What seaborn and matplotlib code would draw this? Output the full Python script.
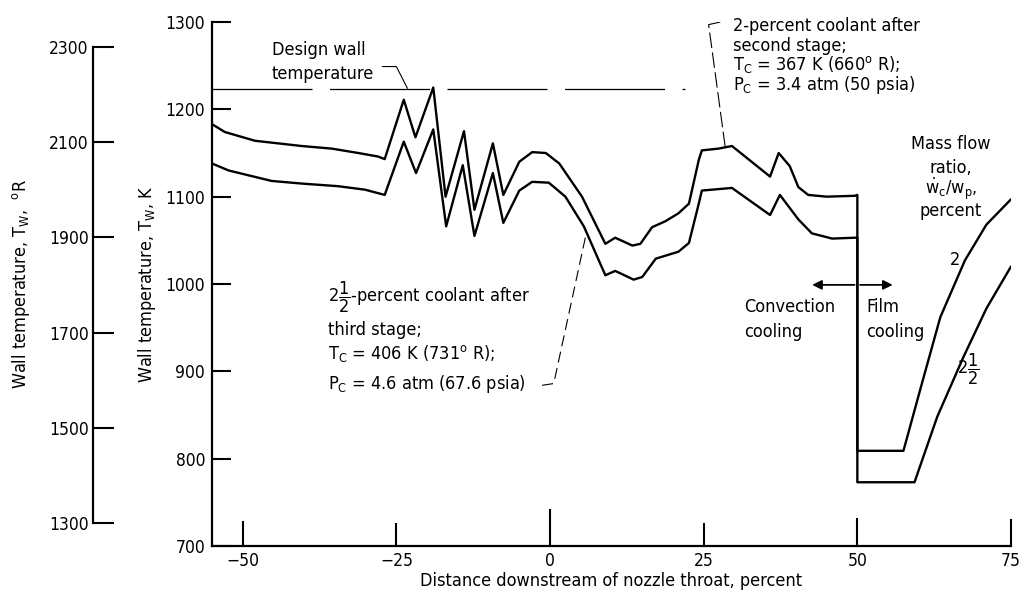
import matplotlib
matplotlib.use('Agg')
from matplotlib import pyplot as plt
import seaborn as sns
import pandas as pd

# curve for 2 percent coolant (upper)
dist_2 = [-55, -52.9, -48, -40.4, -35.5, -31.2, -28, -26.9, -23.8, -21.9, -19.0, -17.0,
          -14.0, -12.3, -9.3, -7.6, -5.0, -2.9, -0.7, 1.5, 5.2, 9.0, 10.6, 13.4, 14.7,
          16.6, 18.8, 20.9, 22.6, 24.2, 24.7, 27.4, 29.6, 35.8, 37.2, 39.0, 40.4, 42.0,
          45.0, 49.6, 50, 50, 57.5, 60.5, 63.5, 67.5, 71.0, 75.0]
temp_2 = [1183, 1174, 1164, 1158, 1155, 1150, 1146, 1143, 1211, 1168, 1225, 1100,
          1175, 1085, 1161, 1102, 1140, 1151, 1150, 1138, 1100, 1046, 1053, 1044, 1046,
          1065, 1072, 1081, 1092, 1142, 1153, 1155, 1158, 1123, 1150, 1135, 1111, 1102,
          1100, 1101, 1102, 809, 809, 886, 962, 1027, 1068, 1097]

# curve for 2 1/2 percent coolant (lower)
dist_25 = [-55, -52.3, -45.3, -40.4, -34.5, -30.1, -26.9, -23.8, -21.8, -19.0, -16.9,
           -14.2, -12.3, -9.3, -7.6, -5.0, -2.9, -0.2, 2.5, 5.5, 9.0, 10.6, 13.6, 15.0,
           17.2, 20.9, 22.6, 24.2, 24.7, 29.6, 35.8, 37.4, 40.4, 42.6, 45.9, 49.6, 50, 50,
           59.3, 63.0, 67.3, 71.0, 75.0]
temp_25 = [1138, 1130, 1118, 1115, 1112, 1108, 1102, 1163, 1127, 1177, 1066,
           1136, 1055, 1127, 1070, 1107, 1117, 1116, 1100, 1066, 1010, 1015, 1005, 1008,
           1029, 1037, 1047, 1092, 1107, 1110, 1079, 1102, 1074, 1058, 1052, 1053, 1053, 773,
           773, 848, 917, 972, 1020]

design_temp = 1223
design_x = [-55, 22]

x_ticks = [-50, -25, 0, 25, 50, 75]
k_ticks = [700, 800, 900, 1000, 1100, 1200, 1300]
r_ticks = [1300, 1500, 1700, 1900, 2100, 2300]

sns.set_theme(style='ticks')
plt.rcParams['font.family'] = ['Liberation Sans Narrow', 'DejaVu Sans']
plt.rcParams['font.stretch'] = 'condensed'
plt.rcParams['mathtext.default'] = 'regular'
for k in ['text.color', 'axes.labelcolor', 'xtick.color', 'ytick.color', 'axes.edgecolor']:
    plt.rcParams[k] = 'black'

fig = plt.figure(figsize=(10.21, 5.94), dpi=100)
ax = fig.add_axes([212 / 1021, 48 / 594, 799 / 1021, 524 / 594])

df2 = pd.DataFrame({'dist': dist_2, 'temp': temp_2})
df25 = pd.DataFrame({'dist': dist_25, 'temp': temp_25})
sns.lineplot(data=df2, x='dist', y='temp', sort=False, estimator=None, color='black', lw=1.7, ax=ax)
sns.lineplot(data=df25, x='dist', y='temp', sort=False, estimator=None, color='black', lw=1.7, ax=ax)

# design wall temperature line
ax.plot(design_x, [design_temp, design_temp], color='black', lw=0.9, dashes=(80, 14))

ax.set_xlim(-55, 75)
ax.set_ylim(700, 1300)
ax.set_xticks(x_ticks)
ax.set_yticks(k_ticks)
sns.despine(ax=ax)
for s in ['left', 'bottom']:
    ax.spines[s].set_linewidth(1.6)
ax.tick_params(axis='y', direction='in', length=14, width=1.5, labelsize=12.5, pad=5)
ax.tick_params(axis='x', direction='in', length=18, width=1.5, labelsize=12.5, pad=4)
for tk, ln in zip(ax.xaxis.get_major_ticks(), [18, 16.5, 26.5, 16.5, 20, 19.5]):
    tk.tick1line.set_markersize(ln)
ax.set_xlabel('Distance downstream of nozzle throat, percent', fontsize=13, labelpad=2)
ax.set_ylabel('Wall temperature, $T_W$, K', fontsize=13, labelpad=5)

# left Rankine scale
ax2 = fig.add_axes([93 / 1021, 48 / 594, 0.02, 524 / 594])
ax2.set_facecolor('none')
ax2.set_ylim(1252, 2352)
ax2.set_yticks(r_ticks)
ax2.set_xticks([])
for s in ['top', 'right', 'bottom']:
    ax2.spines[s].set_visible(False)
ax2.spines['left'].set_bounds(1300, 2300)
ax2.spines['left'].set_linewidth(1.6)
ax2.tick_params(axis='y', direction='in', length=15, width=1.5, labelsize=12.5, pad=3)
ax2.set_ylabel('Wall temperature, $T_W$,  $^{o}$R', fontsize=13, labelpad=12)

# annotations
fs = 13
ax.text(-45.3, 1268, 'Design wall', fontsize=fs, va='center')
ax.text(-45.3, 1240, 'temperature', fontsize=fs, va='center')
ax.plot([-27.3, -25.0, -23.2], [1249, 1249, 1224], color='black', lw=0.8)

tx = 29.8
ax.text(tx, 1295, '2-percent coolant after', fontsize=fs, va='center')
ax.text(tx, 1273, 'second stage;', fontsize=fs, va='center')
ax.text(tx, 1251, '$T_C$ = 367 K (660$^{o}$ R);', fontsize=fs, va='center')
ax.text(tx, 1228, '$P_C$ = 3.4 atm (50 psia)', fontsize=fs, va='center')
ax.plot([27.7, 25.8, 28.5], [1300, 1297, 1157], color='black', lw=0.8, dashes=(14, 4))

lx = -36.2
ax.text(lx, 985, '2$\\dfrac{1}{2}$-percent coolant after', fontsize=fs, va='center')
ax.text(lx, 947, 'third stage;', fontsize=fs, va='center')
ax.text(lx, 920, '$T_C$ = 406 K (731$^{o}$ R);', fontsize=fs, va='center')
ax.text(lx, 886, '$P_C$ = 4.6 atm (67.6 psia)', fontsize=fs, va='center')
ax.plot([-1.3, 0.6, 5.8], [884, 886, 1055], color='black', lw=0.8, dashes=(10, 5))

ax.text(31.5, 974, 'Convection', fontsize=fs, va='center')
ax.text(31.5, 945, 'cooling', fontsize=fs, va='center')
ax.text(51.4, 974, 'Film', fontsize=fs, va='center')
ax.text(51.4, 945, 'cooling', fontsize=fs, va='center')
ax.annotate('', xy=(42.2, 999), xytext=(50, 999),
            arrowprops=dict(arrowstyle='-|>', color='black', lw=1.3, mutation_scale=14))
ax.annotate('', xy=(56.2, 999), xytext=(50, 999),
            arrowprops=dict(arrowstyle='-|>', color='black', lw=1.3, mutation_scale=14))

mx = 65.2
ax.text(mx, 1160, 'Mass flow', fontsize=fs, ha='center', va='center')
ax.text(mx, 1133, 'ratio,', fontsize=fs, ha='center', va='center')
ax.text(mx, 1109, '$\\dot{w}_c/w_p$,', fontsize=fs, ha='center', va='center')
ax.text(mx, 1084, 'percent', fontsize=fs, ha='center', va='center')
ax.text(65.9, 1027, '2', fontsize=fs, ha='center', va='center')
ax.text(68.0, 902, '2$\\dfrac{1}{2}$', fontsize=fs, ha='center', va='center')

fig.savefig('out.png', dpi=100)
